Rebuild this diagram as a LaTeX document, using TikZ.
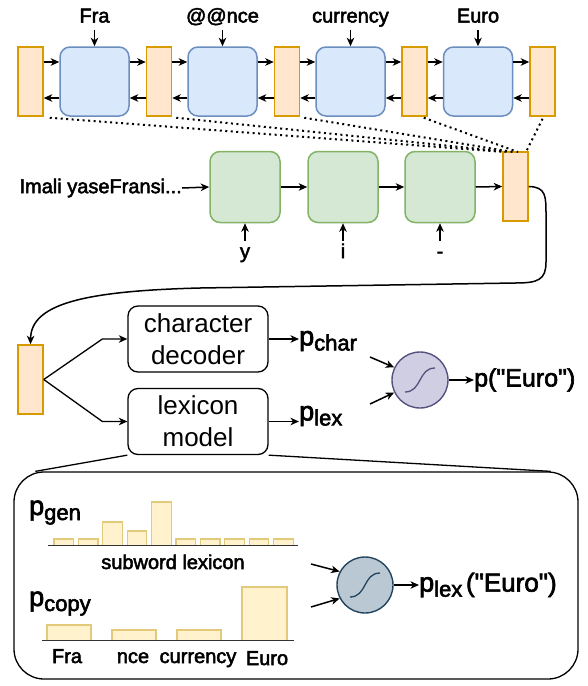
\documentclass[tikz,border=0pt]{standalone}
\usepackage{fontspec}
\setmainfont{Liberation Sans}
\newfontfamily\medf{Liberation Sans}[FakeBold=2.5]
\usetikzlibrary{arrows.meta}
\definecolor{orF}{HTML}{FFE6CC}
\definecolor{orD}{HTML}{D79B00}
\definecolor{blF}{HTML}{DAE8FC}
\definecolor{blD}{HTML}{6C8EBF}
\definecolor{grF}{HTML}{D5E8D4}
\definecolor{grD}{HTML}{82B366}
\definecolor{puF}{HTML}{D0CEE2}
\definecolor{puD}{HTML}{56517E}
\definecolor{slF}{HTML}{BAC8D3}
\definecolor{slD}{HTML}{23445D}
\definecolor{barF}{HTML}{FFF2CC}
\definecolor{barD}{HTML}{E3C97A}
\newcommand\pp[2]{{\medf\fontsize{27}{30}\selectfont p}\raisebox{-5pt}{\medf\fontsize{22}{24}\selectfont #1}{\medf\fontsize{26}{30}\selectfont #2}}
\begin{document}
\begin{tikzpicture}[x=1pt,y=-1pt,
  orbox/.style={draw=orD, fill=orF, line width=1.5pt, minimum width=25pt, minimum height=69pt, inner sep=0pt},
  blbox/.style={draw=blD, fill=blF, line width=1.5pt, rounded corners=10pt, minimum width=69pt, minimum height=69pt, inner sep=0pt},
  grbox/.style={draw=grD, fill=grF, line width=1.5pt, rounded corners=10pt, minimum width=70pt, minimum height=71pt, inner sep=0pt},
  arr/.style={line width=1.5pt, -{Stealth[length=8.5pt,width=7.5pt,inset=2.5pt]}},
  lbl/.style={font=\medf\fontsize{20}{24}\selectfont, inner sep=0pt},
  boxt/.style={draw, line width=1.3pt, rounded corners=10pt, fill=white, minimum width=140pt, minimum height=66pt, align=center, inner sep=0pt, font=\fontsize{26}{32}\selectfont},
  bar/.style={draw=barD, fill=barF, line width=1.2pt},
  dots/.style={line width=2pt, dash pattern=on 2pt off 3.5pt},
  sig/.style={draw, line width=1.4pt, minimum size=56pt, circle, inner sep=0pt}]
\useasboundingbox (0,0) rectangle (587,686);
% top row
\node[orbox] (o1) at (30.5,81.5) {};
\node[blbox] (b1) at (94.5,81.5) {};
\node[orbox] (o2) at (159,81.5) {};
\node[blbox] (b2) at (222.5,81.5) {};
\node[orbox] (o3) at (287,81.5) {};
\node[blbox] (b3) at (350.5,81.5) {};
\node[orbox] (o4) at (414.5,81.5) {};
\node[blbox] (b4) at (478,81.5) {};
\node[orbox] (o5) at (542.5,81.5) {};
\foreach \a/\b in {o1/b1,b1/o2,o2/b2,b2/o3,o3/b3,b3/o4,o4/b4,b4/o5}{
  \draw[arr] ([yshift=19.5pt]\a.east) -- ([yshift=19.5pt]\b.west);
  \draw[arr] ([yshift=-16.5pt]\b.west) -- ([yshift=-16.5pt]\a.east);
}
\node[lbl, anchor=base] (t1) at (94.5,22.5) {Fra};
\node[lbl, anchor=base] (t2) at (222.5,22.5) {@@nce};
\node[lbl, anchor=base] (t3) at (350.5,22.5) {currency};
\node[lbl, anchor=base] (t4) at (478,22.5) {Euro};
\foreach \t/\b in {t1/b1,t2/b2,t3/b3,t4/b4}
  \draw[arr] ([yshift=-7pt]\t.base) -- (\b.north);
% middle row
\node[grbox] (g1) at (245,187) {};
\node[grbox] (g2) at (343,187) {};
\node[grbox] (g3) at (440,187) {};
\node[orbox] (om) at (515.5,186.5) {};
\node[lbl, anchor=east] (src) at (182,188) {Imali yaseFransi...};
\draw[arr] (src.east) -- (g1.west);
\draw[arr] (g1.east) -- (g2.west);
\draw[arr] (g2.east) -- (g3.west);
\draw[arr] (g3.east) -- (om.west);
\node[lbl, anchor=base] (y1) at (245,258) {y};
\node[lbl, anchor=base] (y2) at (343,258) {i};
\node[lbl, anchor=base] (y3) at (440,258) {-};
\foreach \t/\b in {y1/g1,y2/g2,y3/g3}
  \draw[arr] ([yshift=17pt]\t.base) -- (\b.south);
% dotted attention lines
\coordinate (d1) at (505,152);
\coordinate (d2) at (509,152);
\coordinate (d3) at (513,152);
\coordinate (d4) at (518,152);
\coordinate (d5) at (526,152);
\draw[dots] ([xshift=6pt,yshift=-1pt]o1.south east) -- (d1);
\draw[dots] ([xshift=4pt,yshift=-1pt]o2.south east) -- (d2);
\draw[dots] ([xshift=4pt,yshift=-1pt]o3.south east) -- (d3);
\draw[dots] ([xshift=-4pt,yshift=-1pt]o4.south east) -- (d4);
\draw[dots] ([yshift=-2pt]o5.south) -- (d5);
% decoder part
\node[orbox] (ol) at (30.5,379.5) {};
\draw[arr] (om.east) .. controls (546,187) and (546,196) .. (546,215) -- (546,262)
  .. controls (546,280) and (538,283) .. (515,283) -- (200,288)
  .. controls (80,291) and (31,305) .. (ol.north);
\node[boxt] (cd) at (198,339) {character\\decoder};
\node[boxt] (lm) at (198,421.5) {lexicon\\model};
\draw[arr, line width=1.3pt] (ol.east) -- ([xshift=-25pt]cd.west) -- (cd.west);
\draw[arr, line width=1.3pt] (ol.east) -- ([xshift=-25pt]lm.west) -- (lm.west);
\node[anchor=west, inner sep=0pt] (pc) at (299,341) {\pp{char}{}};
\node[anchor=west, inner sep=0pt] (pl) at (299,416) {\pp{lex}{}};
\draw[arr] (cd.east) -- (cd.east -| pc.west);
\draw[arr] (lm.east) -- (lm.east -| pl.west);
\node[sig, draw=puD, fill=puF] (s1) at (420,380) {};
\draw[line width=1.3pt, puD, shift={(s1.center)}] (-15,12) .. controls (2,12) and (-2,-12) .. (15,-12);
\coordinate (a1) at (370,357);
\coordinate (a2) at (370,404);
\draw[arr] (a1) -- (s1.154);
\draw[arr] (a2) -- (s1.206);
\node[lbl, anchor=west, font=\medf\fontsize{25}{30}\selectfont] (pe) at (474,380) {p("Euro")};
\draw[arr] (s1.east) -- (pe.west);
% lexicon model detail
\node[draw, line width=1.3pt, rounded corners=30pt, minimum width=564pt, minimum height=207pt, inner sep=0pt] (bb) at (296,575.5) {};
\draw[line width=1.3pt] (lm.south west) -- ([xshift=22pt]bb.north west);
\draw[line width=1.3pt] (lm.south east) -- ([xshift=-28pt]bb.north east);
\node[anchor=base west, inner sep=0pt] (pg) at (29,515) {\pp{gen}{}};
\foreach \h [count=\i from 0] in {6.5,6.5,23.5,14.5,43.5,6.5,6.5,6.5,6.5,6.5}
  \draw[bar] ({54+\i*24.4},545.5) rectangle ++(19.5,-\h);
\draw[line width=1.3pt, black!80] (48,545.5) -- (298,545.5);
\node[lbl, anchor=base] (sl) at (173,569) {subword lexicon};
\node[anchor=base west, inner sep=0pt] (pcp) at (29,606) {\pp{copy}{}};
\draw[bar] (47,640.5) rectangle (91,625);
\draw[bar] (112,640.5) rectangle (156,630);
\draw[bar] (177,640.5) rectangle (221,630);
\draw[bar] (242,640.5) rectangle (287,587);
\draw[line width=1.3pt, black!80] (42,640.5) -- (294,640.5);
\node[lbl, anchor=base] (c1) at (67,663) {Fra};
\node[lbl, anchor=base] (c2) at (133,663) {nce};
\node[lbl, anchor=base] (c3) at (198,663) {currency};
\node[lbl, anchor=base] (c4) at (267,665) {Euro};
\node[sig, draw=slD, fill=slF] (s2) at (365,585) {};
\draw[line width=1.3pt, slD, shift={(s2.center)}] (-15,12) .. controls (2,12) and (-2,-12) .. (15,-12);
\coordinate (a3) at (311,564);
\coordinate (a4) at (311,607);
\draw[arr] (a3) -- (s2.152);
\draw[arr] (a4) -- (s2.208);
\node[anchor=west, inner sep=0pt] (plx) at (419,585) {\pp{lex\,}{("Euro")}};
\draw[arr] (s2.east) -- (plx.west);
\end{tikzpicture}
\end{document}
